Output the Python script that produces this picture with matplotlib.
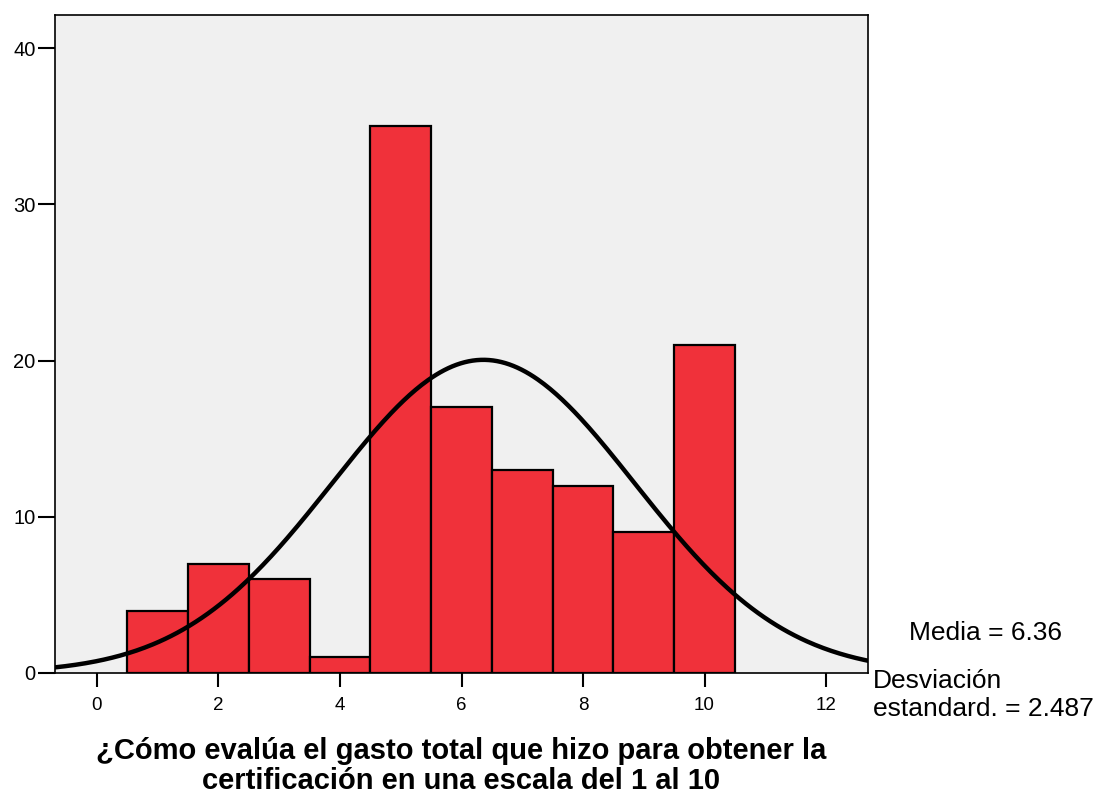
import numpy as np
import matplotlib.pyplot as plt

plt.rcParams['font.family'] = ['Liberation Sans', 'DejaVu Sans']

# valores de la escala y frecuencias
valores = [1, 2, 3, 4, 5, 6, 7, 8, 9, 10]
frecuencias = [4, 7, 6, 1, 35, 17, 13, 12, 9, 21]
media = 6.36
desv = 2.487
n = sum(frecuencias)

fig = plt.figure(figsize=(10.98, 7.94), dpi=100)
ax = fig.add_axes([55/1098, 1 - 673/794, (868 - 55)/1098, (673 - 15)/794])
ax.set_facecolor('#f0f0f0')

ax.bar(valores, frecuencias, width=1.0, color='#f0313a', edgecolor='black', linewidth=1.6, zorder=2)

xs = np.linspace(-0.69, 12.69, 400)
curva = n * np.exp(-0.5 * ((xs - media) / desv) ** 2) / (desv * np.sqrt(2 * np.pi))
ax.plot(xs, curva, color='black', linewidth=3.2, zorder=3)

ax.set_xlim(-0.69, 12.69)
ax.set_ylim(0, 42.13)
ax.set_xticks([0, 2, 4, 6, 8, 10, 12])
ax.set_yticks([0, 10, 20, 30, 40])
ax.tick_params(axis='y', length=12, width=1.5, labelsize=14.5, pad=2)
ax.tick_params(axis='x', length=10, width=1.5, labelsize=13.5, pad=7)
for s in ax.spines.values():
    s.set_linewidth(1.2)

fig.text(461/1098, 1 - 766/794, '¿Cómo evalúa el gasto total que hizo para obtener la\ncertificación en una escala del 1 al 10',
         fontsize=21, fontweight='bold', ha='center', va='center', linespacing=1.1)

fig.text(909/1098, 1 - 633/794, 'Media = 6.36', fontsize=19, ha='left', va='center')
fig.text(873/1098, 1 - 695/794, 'Desviación\nestandard. = 2.487', fontsize=19, ha='left', va='center',
         linespacing=1.25)

fig.savefig('out.png', dpi=100)
